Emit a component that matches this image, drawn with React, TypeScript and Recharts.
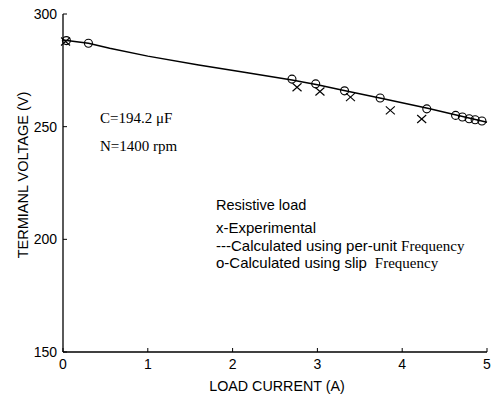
import React from "react";
import { ComposedChart, Scatter, XAxis, YAxis } from "recharts";

const xTicks = [0, 1, 2, 3, 4, 5];
const yTicks = [150, 200, 250, 300];

// calculated using per-unit frequency (solid line)
const lineX = [0, 0.3, 0.55, 1.0, 1.6, 2.1, 2.7, 3.0, 3.3, 3.75, 4.3, 4.65, 5.0];
const lineV = [288.5, 287.0, 284.8, 281.3, 277.4, 274.4, 270.7, 268.6, 266.2, 262.6, 258.2, 255.1, 252.0];

// calculated using slip frequency (circles)
const slipX = [0.04, 0.3, 2.7, 2.98, 3.32, 3.74, 4.29, 4.63, 4.71, 4.79, 4.86, 4.94];
const slipV = [288.2, 287.0, 271.1, 269.0, 265.9, 262.7, 257.9, 255.0, 254.3, 253.5, 253.1, 252.5];

// experimental (crosses)
const expX = [0.03, 2.76, 3.03, 3.39, 3.86, 4.23];
const expV = [287.8, 267.5, 265.6, 263.1, 257.2, 253.4];

const lineData = lineX.map((x, i) => ({ x, v: lineV[i] }));
const slipData = slipX.map((x, i) => ({ x, v: slipV[i] }));
const expData = expX.map((x, i) => ({ x, v: expV[i] }));

const SANS = "'Liberation Sans', Arial, sans-serif";
const SERIF = "'Liberation Serif', 'Times New Roman', serif";
const TM = 5;
const TL = 4;

const Circle = (p: any) => (
  <circle cx={p.cx} cy={p.cy} r={4} fill="none" stroke="#000" strokeWidth={1.1} />
);
const Cross = (p: any) => (
  <g stroke="#000" strokeWidth={1.1}>
    <line x1={p.cx - 4.5} y1={p.cy - 4} x2={p.cx + 4.5} y2={p.cy + 4} />
    <line x1={p.cx - 4.5} y1={p.cy + 4} x2={p.cx + 4.5} y2={p.cy - 4} />
  </g>
);
const None = () => null;

const LeftTick = (p: any) => {
  const ax = p.x + TM;
  return (
    <g>
      <line x1={ax} y1={p.y} x2={ax + TL} y2={p.y} stroke="#000" />
      <text x={p.x - 1} y={p.y} dy={5} textAnchor="end" fontFamily={SANS} fontSize={14} fill="#000">
        {p.payload.value}
      </text>
    </g>
  );
};
const RightTick = (p: any) => {
  const ax = p.x - TM;
  return <line x1={ax} y1={p.y} x2={ax - TL} y2={p.y} stroke="#000" />;
};
const BottomTick = (p: any) => {
  const ay = p.y - TM;
  return (
    <g>
      <line x1={p.x} y1={ay} x2={p.x} y2={ay - TL} stroke="#000" />
      <text x={p.x} y={p.y} dy={12} textAnchor="middle" fontFamily={SANS} fontSize={14} fill="#000">
        {p.payload.value}
      </text>
    </g>
  );
};
const TopTick = (p: any) => {
  const ay = p.y + TM;
  return <line x1={p.x} y1={ay} x2={p.x} y2={ay + TL} stroke="#000" />;
};

export default function App() {
  return (
    <div style={{ position: "absolute", left: 0, top: 0, width: 492, height: 398, background: "#fff" }}>
      <ComposedChart
        width={492}
        height={398}
        margin={{ top: 14, right: 5, bottom: 45, left: 23 }}
      >
        <XAxis
          xAxisId="b"
          type="number"
          dataKey="x"
          domain={[0, 5]}
          ticks={xTicks}
          tickSize={0}
          tickMargin={TM}
          tickLine={false}
          tick={<BottomTick />}
          axisLine={{ stroke: "#000", strokeWidth: 1.3 }}
          height={1}
          interval={0}
        />
        <XAxis
          xAxisId="t"
          orientation="top"
          type="number"
          dataKey="x"
          domain={[0, 5]}
          ticks={xTicks}
          tickSize={0}
          tickMargin={TM}
          tickLine={false}
          tick={<TopTick />}
          axisLine={{ stroke: "#000", strokeWidth: 1.3 }}
          height={0}
          interval={0}
        />
        <YAxis
          yAxisId="l"
          type="number"
          dataKey="v"
          domain={[150, 300]}
          ticks={yTicks}
          tickSize={0}
          tickMargin={TM}
          tickLine={false}
          tick={<LeftTick />}
          axisLine={{ stroke: "#000", strokeWidth: 1.3 }}
          width={40}
          interval={0}
        />
        <YAxis
          yAxisId="r"
          orientation="right"
          type="number"
          dataKey="v"
          domain={[150, 300]}
          ticks={yTicks}
          tickSize={0}
          tickMargin={TM}
          tickLine={false}
          tick={<RightTick />}
          axisLine={{ stroke: "#000", strokeWidth: 1.3 }}
          width={0}
          interval={0}
        />
        <Scatter
          xAxisId="b"
          yAxisId="l"
          data={lineData}
          dataKey="v"
          line={{ stroke: "#000", strokeWidth: 1.5 }}
          lineType="joint"
          shape={<None />}
          isAnimationActive={false}
        />
        <Scatter
          xAxisId="b"
          yAxisId="l"
          data={slipData}
          dataKey="v"
          shape={<Circle />}
          isAnimationActive={false}
        />
        <Scatter
          xAxisId="b"
          yAxisId="l"
          data={expData}
          dataKey="v"
          shape={<Cross />}
          isAnimationActive={false}
        />
      </ComposedChart>
      <svg
        width={492}
        height={398}
        style={{ position: "absolute", left: 0, top: 0, pointerEvents: "none" }}
      >
        <text x={277} y={391} textAnchor="middle" fontFamily={SANS} fontSize={14.3} fill="#000">
          LOAD CURRENT (A)
        </text>
        <text
          x={0}
          y={0}
          transform="translate(28,175) rotate(-90)"
          textAnchor="middle"
          fontFamily={SANS}
          fontSize={14.5}
          fill="#000"
        >
          TERMIANL VOLTAGE (V)
        </text>
        <text x={100} y={123} fontFamily={SERIF} fontSize={15} fill="#000">
          C=194.2 μF
        </text>
        <text x={100} y={151} fontFamily={SERIF} fontSize={15} fill="#000">
          N=1400 rpm
        </text>
        <text x={216} y={210} fontFamily={SANS} fontSize={14.5} fill="#000">
          Resistive load
        </text>
        <text x={216} y={233} fontFamily={SANS} fontSize={15} fill="#000">
          x-Experimental
        </text>
        <text x={216} y={251} fontFamily={SANS} fontSize={15} fill="#000">
          ---Calculated using per-unit <tspan fontFamily={SERIF}>Frequency</tspan>
        </text>
        <text x={216} y={268} fontFamily={SANS} fontSize={15} fill="#000">
          o-Calculated using slip <tspan fontFamily={SERIF}>&#160;Frequency</tspan>
        </text>
      </svg>
    </div>
  );
}
